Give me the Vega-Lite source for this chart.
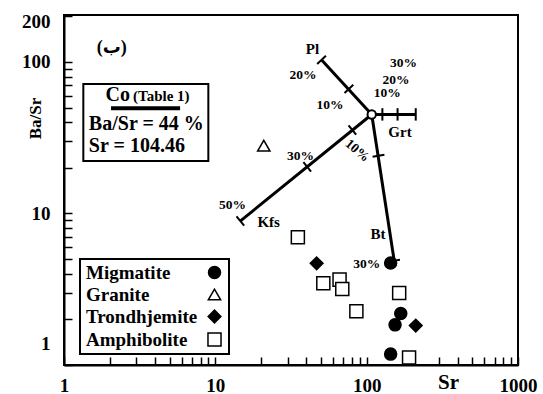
{
  "$schema": "https://vega.github.io/schema/vega-lite/v6.json",
  "width": 454,
  "height": 350,
  "autosize": "none",
  "padding": {"left": 64, "top": 15, "right": 25, "bottom": 29},
  "background": "white",
  "config": {
    "view": {"stroke": "black", "strokeWidth": 2},
    "font": "Liberation Serif",
    "legend": {"strokeColor": "black", "strokeWidth": 2, "fillColor": "white", "padding": 4, "symbolStrokeColor": "black", "symbolStrokeWidth": 1.5}
  },
  "datasets": {
    "samples": [
      {"x": 144, "y": 4.71, "type": "Migmatite"},
      {"x": 168, "y": 2.19, "type": "Migmatite"},
      {"x": 154, "y": 1.84, "type": "Migmatite"},
      {"x": 144, "y": 1.18, "type": "Migmatite"},
      {"x": 20.9, "y": 28.0, "type": "Granite"},
      {"x": 46.7, "y": 4.69, "type": "Trondhjemite"},
      {"x": 211, "y": 1.82, "type": "Trondhjemite"},
      {"x": 35.1, "y": 6.96, "type": "Amphibolite"},
      {"x": 51.7, "y": 3.46, "type": "Amphibolite"},
      {"x": 66.2, "y": 3.66, "type": "Amphibolite"},
      {"x": 69, "y": 3.17, "type": "Amphibolite"},
      {"x": 85.5, "y": 2.26, "type": "Amphibolite"},
      {"x": 164, "y": 2.99, "type": "Amphibolite"},
      {"x": 190.6, "y": 1.12, "type": "Amphibolite"}
    ],
    "vectors": [
      {"name": "Pl", "x": 108, "y": 45, "x2": 50.4, "y2": 103},
      {"name": "Grt", "x": 108, "y": 45, "x2": 211, "y2": 45},
      {"name": "Kfs", "x": 108, "y": 45, "x2": 14.6, "y2": 8.9},
      {"name": "Bt", "x": 108, "y": 45, "x2": 152, "y2": 4.88}
    ],
    "marks": [
      {"x": 81.6, "y": 70.6, "x2": 71.4, "y2": 62.3},
      {"x": 53.8, "y": 109.7, "x2": 47.1, "y2": 96.9},
      {"x": 127, "y": 49.5, "x2": 127, "y2": 41},
      {"x": 160, "y": 49.5, "x2": 160, "y2": 41},
      {"x": 211, "y": 49.5, "x2": 211, "y2": 41},
      {"x": 85.2, "y": 33.1, "x2": 75.9, "y2": 38.2},
      {"x": 42.9, "y": 18.9, "x2": 38.2, "y2": 21.8},
      {"x": 15.5, "y": 8.31, "x2": 13.8, "y2": 9.58},
      {"x": 131, "y": 24.4, "x2": 109.4, "y2": 23.7},
      {"x": 166, "y": 4.95, "x2": 138.6, "y2": 4.81}
    ],
    "pct": [
      {"x": 37.9, "y": 82, "label": "20%"},
      {"x": 57.2, "y": 52, "label": "10%"},
      {"x": 175, "y": 98.5, "label": "30%"},
      {"x": 156, "y": 76.5, "label": "20%"},
      {"x": 137, "y": 62, "label": "10%"},
      {"x": 36.6, "y": 24.1, "label": "30%"},
      {"x": 13.0, "y": 11.3, "label": "50%"},
      {"x": 100, "y": 4.64, "label": "30%"}
    ],
    "pctRot": [
      {"x": 86.8, "y": 26, "label": "10%"}
    ],
    "minerals": [
      {"x": 43.8, "y": 121, "label": "Pl"},
      {"x": 166, "y": 34.4, "label": "Grt"},
      {"x": 22.5, "y": 8.75, "label": "Kfs"},
      {"x": 119, "y": 7.32, "label": "Bt"}
    ],
    "centre": [{"x": 108, "y": 45}],
    "box": [{"x": 1.342, "y": 71.6, "x2": 8.99, "y2": 22.2}],
    "underline": [{"x": 2.045, "y": 49.5, "x2": 5.85, "y2": 49.5}],
    "coText": [{"x": 2.73, "y": 55.3, "label": "Co"}],
    "tableText": [{"x": 2.86, "y": 55.3, "label": "(Table 1)"}],
    "boxLines": [
      {"x": 1.46, "y": 35.6, "label": "Ba/Sr = 44 %"},
      {"x": 1.46, "y": 25.5, "label": "Sr = 104.46"}
    ],
    "panel": [{"x": 2.07, "y": 123, "label": "(ب)"}]
  },
  "encoding": {
    "x": {
      "field": "x", "type": "quantitative",
      "scale": {"type": "log", "domain": [1, 1000], "nice": false},
      "axis": {
        "title": "Sr", "titleX": 384, "titleY": 17, "titleBaseline": "middle", "titleAlign": "center", "titleAnchor": null,
        "titleFont": "Liberation Serif", "titleFontWeight": "bold", "titleFontSize": 21, "titleColor": "black",
        "values": [1,2,3,4,5,6,7,8,9,10,20,30,40,50,60,70,80,90,100,200,300,400,500,600,700,800,900,1000],
        "labelExpr": "indexof([1,10,100,1000], datum.value) >= 0 ? datum.value + '' : ''",
        "labelFont": "Liberation Serif", "labelFontWeight": "bold", "labelFontSize": 19, "labelColor": "black",
        "labelFlush": false, "labelOverlap": false, "labelBound": false,
        "tickSize": -8, "tickColor": "black", "tickWidth": 1.5, "labelPadding": 19,
        "domainColor": "black", "domainWidth": 2, "grid": false
      }
    },
    "y": {
      "field": "y", "type": "quantitative",
      "scale": {"type": "log", "domain": [1, 204], "nice": false},
      "axis": {
        "title": "Ba/Sr", "titleX": -29, "titleY": 103, "titleAngle": -90, "titleBaseline": "middle", "titleAlign": "center", "titleAnchor": null,
        "titleFont": "Liberation Serif", "titleFontWeight": "bold", "titleFontSize": 17, "titleColor": "black",
        "values": [1,2,3,4,5,6,7,8,9,10,20,30,40,50,60,70,80,90,100,200],
        "labelExpr": "indexof([1,10,100,200], datum.value) >= 0 ? datum.value + '' : ''",
        "labelFont": "Liberation Serif", "labelFontWeight": "bold", "labelFontSize": 19, "labelColor": "black",
        "labelFlush": false, "labelOverlap": false, "labelBound": false,
        "labelOffset": {"condition": [{"test": "datum.value == 1", "value": -22}, {"test": "datum.value == 200", "value": 5}], "value": 0},
        "tickSize": -8, "tickColor": "black", "tickWidth": 1.5, "labelPadding": 22,
        "domainColor": "black", "domainWidth": 2, "grid": false
      }
    }
  },
  "layer": [
    {
      "data": {"name": "box"},
      "mark": {"type": "rect", "fill": "white", "stroke": "black", "strokeWidth": 2},
      "encoding": {"x2": {"field": "x2"}, "y2": {"field": "y2"}}
    },
    {
      "data": {"name": "underline"},
      "mark": {"type": "rule", "color": "black", "strokeWidth": 4},
      "encoding": {"x2": {"field": "x2"}, "y2": {"field": "y2"}}
    },
    {
      "data": {"name": "vectors"},
      "mark": {"type": "rule", "color": "black", "strokeWidth": 3},
      "encoding": {"x2": {"field": "x2"}, "y2": {"field": "y2"}}
    },
    {
      "data": {"name": "marks"},
      "mark": {"type": "rule", "color": "black", "strokeWidth": 2},
      "encoding": {"x2": {"field": "x2"}, "y2": {"field": "y2"}}
    },
    {
      "data": {"name": "samples"},
      "mark": {"type": "point", "filled": true, "strokeWidth": 1.5, "opacity": 1},
      "encoding": {
        "shape": {
          "field": "type", "type": "nominal",
          "scale": {"domain": ["Migmatite", "Granite", "Trondhjemite", "Amphibolite"], "range": ["circle", "triangle-up", "diamond", "square"]},
          "legend": {"title": null, "orient": "none", "legendX": 16, "legendY": 244, "labelFont": "Liberation Serif", "labelFontWeight": "bold", "labelFontSize": 19, "labelColor": "black", "symbolOffset": 121, "labelOffset": -138, "rowPadding": 2, "labelLimit": 300, "symbolStrokeWidth": 1.5}
        },
        "fill": {
          "field": "type", "type": "nominal",
          "scale": {"domain": ["Migmatite", "Granite", "Trondhjemite", "Amphibolite"], "range": ["black", "white", "black", "white"]},
          "legend": {"title": null, "orient": "none", "legendX": 16, "legendY": 244, "labelFont": "Liberation Serif", "labelFontWeight": "bold", "labelFontSize": 19, "labelColor": "black", "symbolOffset": 121, "labelOffset": -138, "rowPadding": 2, "labelLimit": 300, "symbolStrokeWidth": 1.5}
        },
        "stroke": {
          "field": "type", "type": "nominal",
          "scale": {"domain": ["Migmatite", "Granite", "Trondhjemite", "Amphibolite"], "range": ["black", "black", "black", "black"]},
          "legend": {"title": null, "orient": "none", "legendX": 16, "legendY": 244, "labelFont": "Liberation Serif", "labelFontWeight": "bold", "labelFontSize": 19, "labelColor": "black", "symbolOffset": 121, "labelOffset": -138, "rowPadding": 2, "labelLimit": 300, "symbolStrokeWidth": 1.5}
        },
        "size": {
          "field": "type", "type": "nominal",
          "scale": {"domain": ["Migmatite", "Granite", "Trondhjemite", "Amphibolite"], "range": [144, 170, 180, 110]},
          "legend": {"title": null, "orient": "none", "legendX": 16, "legendY": 244, "labelFont": "Liberation Serif", "labelFontWeight": "bold", "labelFontSize": 19, "labelColor": "black", "symbolOffset": 121, "labelOffset": -138, "rowPadding": 2, "labelLimit": 300, "symbolStrokeWidth": 1.5}
        }
      }
    },
    {
      "data": {"name": "centre"},
      "mark": {"type": "point", "shape": "circle", "size": 70, "filled": true, "fill": "white", "stroke": "black", "strokeWidth": 2, "opacity": 1},
      "encoding": {}
    },
    {
      "data": {"name": "pct"},
      "mark": {"type": "text", "font": "Liberation Serif", "fontWeight": "bold", "fontSize": 13.5, "color": "black", "align": "center", "baseline": "middle"},
      "encoding": {"text": {"field": "label"}}
    },
    {
      "data": {"name": "pctRot"},
      "mark": {"type": "text", "font": "Liberation Serif", "fontWeight": "bold", "fontSize": 13.5, "color": "black", "align": "center", "baseline": "middle", "angle": 40},
      "encoding": {"text": {"field": "label"}}
    },
    {
      "data": {"name": "minerals"},
      "mark": {"type": "text", "font": "Liberation Serif", "fontWeight": "bold", "fontSize": 15, "color": "black", "align": "center", "baseline": "middle"},
      "encoding": {"text": {"field": "label"}}
    },
    {
      "data": {"name": "coText"},
      "mark": {"type": "text", "font": "Liberation Serif", "fontWeight": "bold", "fontSize": 20, "color": "black", "align": "right", "baseline": "alphabetic"},
      "encoding": {"text": {"field": "label"}}
    },
    {
      "data": {"name": "tableText"},
      "mark": {"type": "text", "font": "Liberation Serif", "fontWeight": "bold", "fontSize": 15, "color": "black", "align": "left", "baseline": "alphabetic"},
      "encoding": {"text": {"field": "label"}}
    },
    {
      "data": {"name": "boxLines"},
      "mark": {"type": "text", "font": "Liberation Serif", "fontWeight": "bold", "fontSize": 20, "color": "black", "align": "left", "baseline": "alphabetic"},
      "encoding": {"text": {"field": "label"}}
    },
    {
      "data": {"name": "panel"},
      "mark": {"type": "text", "font": "Liberation Serif, DejaVu Sans", "fontWeight": "bold", "fontSize": 18, "color": "black", "align": "center", "baseline": "middle"},
      "encoding": {"text": {"field": "label"}}
    }
  ]
}
